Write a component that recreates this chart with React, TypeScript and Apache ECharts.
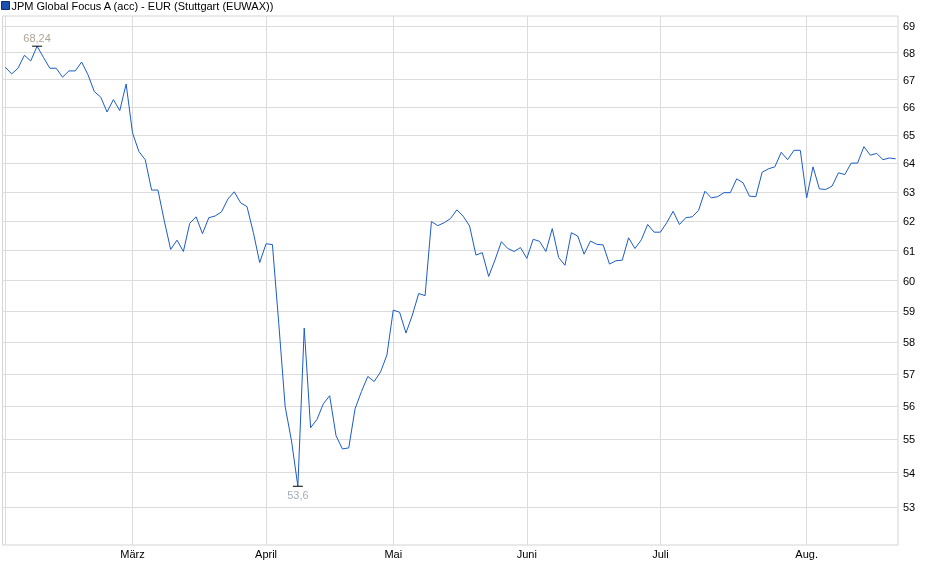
import React, { useEffect, useRef } from 'react';
import * as echarts from 'echarts';

const SERIES_NAME = 'JPM Global Focus A (acc) - EUR (Stuttgart (EUWAX))';

// trading days: weekdays between these dates, minus exchange holidays
const FIRST_DAY = '2025-02-03';
const LAST_DAY = '2025-08-21';
const HOLIDAYS = ['2025-04-18', '2025-04-21', '2025-05-01'];

const MONTH_NAMES = ['Jan.', 'Feb.', 'März', 'April', 'Mai', 'Juni', 'Juli', 'Aug.', 'Sept.', 'Okt.', 'Nov.', 'Dez.'];

const Y_TICKS = [53, 54, 55, 56, 57, 58, 59, 60, 61, 62, 63, 64, 65, 66, 67, 68, 69];

// closing prices, one per trading day
const PRICES = [
  67.46, 67.21, 67.42, 67.9, 67.69, 68.24, 67.82, 67.42, 67.42, 67.09,
  67.32, 67.32, 67.65, 67.18, 66.56, 66.36, 65.82, 66.27, 65.87, 66.84,
  65.07, 64.41, 64.12, 63.06, 63.06, 62.0, 61.04, 61.35, 60.97, 61.92,
  62.14, 61.57, 62.11, 62.17, 62.31, 62.75, 63.0, 62.62, 62.49, 61.61,
  60.6, 61.23, 61.2, 58.6, 56.0, 54.95, 53.6, 58.46, 55.35, 55.6,
  56.08, 56.33, 55.11, 54.71, 54.74, 55.93, 56.46, 56.93, 56.77, 57.07,
  57.6, 59.04, 58.97, 58.3, 58.88, 59.58, 59.51, 61.98, 61.84, 61.94,
  62.08, 62.38, 62.16, 61.83, 60.85, 60.93, 60.14, 60.69, 61.3, 61.07,
  60.97, 61.1, 60.74, 61.38, 61.31, 60.97, 61.74, 60.77, 60.51, 61.6,
  61.49, 60.88, 61.32, 61.21, 61.19, 60.55, 60.66, 60.68, 61.43, 61.07,
  61.36, 61.88, 61.62, 61.62, 61.94, 62.33, 61.88, 62.11, 62.14, 62.36,
  63.02, 62.79, 62.83, 62.97, 62.97, 63.45, 63.31, 62.85, 62.83, 63.68,
  63.8, 63.87, 64.38, 64.12, 64.45, 64.45, 62.79, 63.87, 63.1, 63.08,
  63.2, 63.66, 63.6, 64.0, 64.0, 64.58, 64.28, 64.34, 64.12, 64.18,
  64.15,
];

const tradingDays = (): Date[] => {
  const days: Date[] = [];
  const d = new Date(FIRST_DAY + 'T00:00:00Z');
  const end = new Date(LAST_DAY + 'T00:00:00Z');
  while (d <= end) {
    const wd = d.getUTCDay();
    const iso = d.toISOString().slice(0, 10);
    if (wd !== 0 && wd !== 6 && !HOLIDAYS.includes(iso)) days.push(new Date(d));
    d.setUTCDate(d.getUTCDate() + 1);
  }
  return days;
};

const App: React.FC = () => {
  const chartRef = useRef<HTMLDivElement>(null);

  useEffect(() => {
    if (!chartRef.current) return;
    const chart = echarts.init(chartRef.current, undefined, { renderer: 'svg' });

    const days = tradingDays();
    // index of the first trading day of each month
    const monthStarts: number[] = [0];
    const monthLabel: Record<number, string> = {};
    days.forEach((day, i) => {
      if (i > 0 && day.getUTCMonth() !== days[i - 1].getUTCMonth()) {
        monthStarts.push(i);
        monthLabel[i] = MONTH_NAMES[day.getUTCMonth()];
      }
    });

    const fmt = (v: number) => String(v).replace('.', ',');
    const font = '"Liberation Sans", Arial, sans-serif';

    const option: echarts.EChartsOption = {
      animation: false,
      textStyle: { fontFamily: font },
      legend: {
        left: 1,
        top: 0,
        padding: 0,
        itemWidth: 8,
        itemHeight: 8,
        icon: 'rect',
        textStyle: { fontSize: 11, color: '#000', fontFamily: font, padding: [0, 0, 0, -3] },
        data: [{ name: SERIES_NAME, itemStyle: { color: '#1b4fb0', borderColor: '#0d2f70', borderWidth: 1 } }],
      },
      grid: {
        left: 2.5,
        right: 42,
        top: 16,
        bottom: 34,
        show: true,
        borderColor: '#d4d4d4',
        borderWidth: 1,
        backgroundColor: '#fff',
      },
      xAxis: {
        type: 'value',
        min: -0.44,
        max: 140.36,
        axisLine: { show: false },
        axisTick: { show: false, customValues: monthStarts },
        axisLabel: {
          customValues: monthStarts,
          formatter: (v: number) => monthLabel[Math.round(v)] ?? '',
          fontSize: 11,
          color: '#000',
          margin: 3,
        },
        splitLine: { show: true, lineStyle: { color: '#dcdcdc', width: 1 } },
      },
      yAxis: {
        type: 'log',
        logBase: 10,
        position: 'right',
        min: 51.9,
        max: 69.38,
        axisLine: { show: false },
        axisTick: { show: false, customValues: Y_TICKS },
        axisLabel: {
          customValues: Y_TICKS,
          fontSize: 11,
          color: '#000',
          margin: 5,
          formatter: (v: number) => String(Math.round(v)),
        },
        splitLine: { show: true, lineStyle: { color: '#dcdcdc', width: 1 } },
      },
      series: [
        {
          name: SERIES_NAME,
          type: 'line',
          data: PRICES.map((p, i) => [i, p]),
          showSymbol: false,
          symbol: 'none',
          lineStyle: { color: '#1c5cc6', width: 1 },
          itemStyle: { color: '#1b4fb0' },
          markPoint: {
            symbol: 'rect',
            symbolSize: [10, 1],
            itemStyle: { color: '#000' },
            silent: true,
            data: [
              {
                type: 'max',
                label: { position: 'top', distance: 2, color: '#b0a595', fontSize: 11, formatter: (p: any) => fmt(p.value) },
              },
              {
                type: 'min',
                label: { position: 'bottom', distance: 3, color: '#a3adbd', fontSize: 11, formatter: (p: any) => fmt(p.value) },
              },
            ],
          },
        },
      ],
    };

    chart.setOption(option);
    return () => chart.dispose();
  }, []);

  return <div ref={chartRef} style={{ position: 'fixed', left: 0, top: 0, width: 940, height: 579 }} />;
};

export default App;
